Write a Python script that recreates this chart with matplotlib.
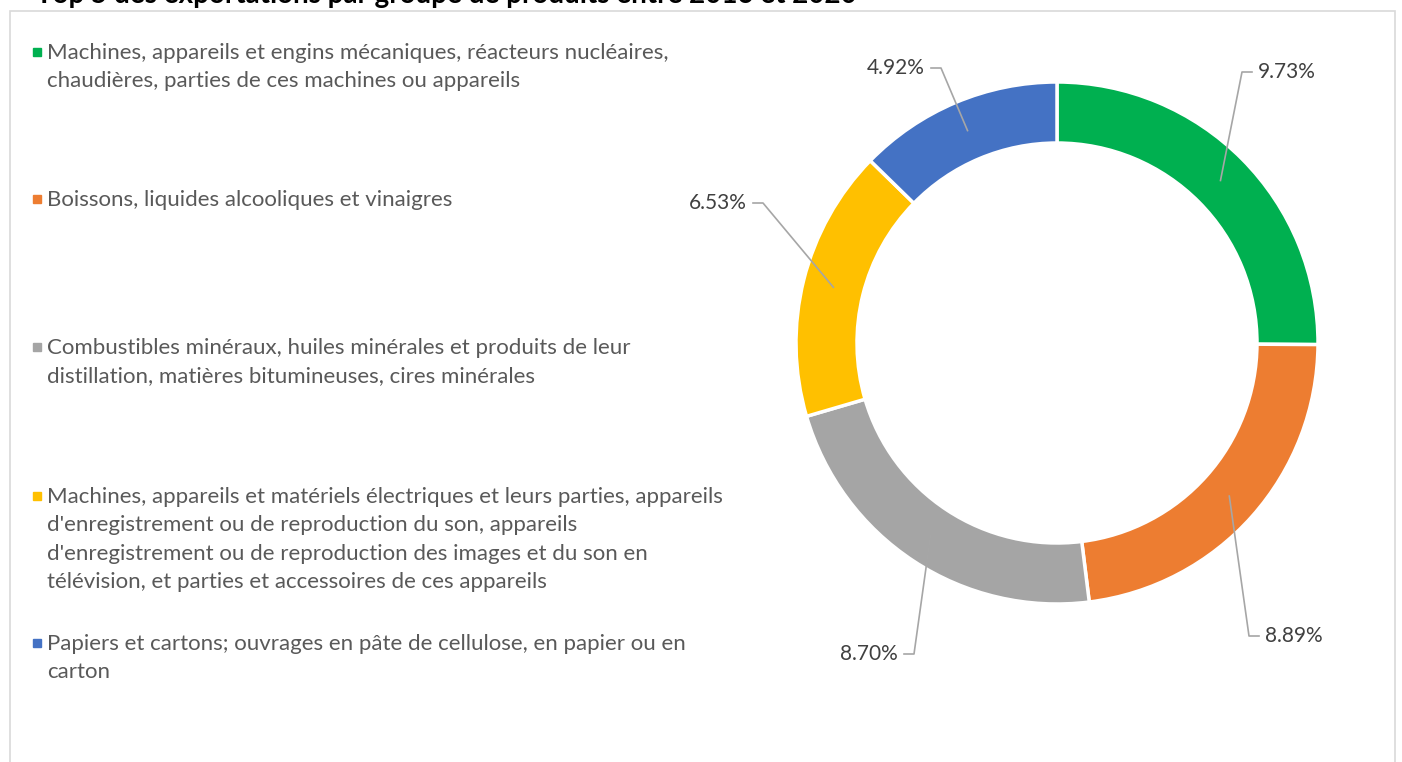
import numpy as np
import matplotlib
matplotlib.use("Agg")
import matplotlib.pyplot as plt
from matplotlib.patches import Rectangle

plt.rcParams["font.family"] = ["Lato", "DejaVu Sans"]

# ------------------------------------------------------------------
# data
# ------------------------------------------------------------------
TITLE = "Top 5 des exportations par groupe de produits entre 2016 et 2020"
CATEGORIES = [
    "Machines, appareils et engins mécaniques, réacteurs nucléaires,\n"
    "chaudières, parties de ces machines ou appareils",
    "Boissons, liquides alcooliques et vinaigres",
    "Combustibles minéraux, huiles minérales et produits de leur\n"
    "distillation, matières bitumineuses, cires minérales",
    "Machines, appareils et matériels électriques et leurs parties, appareils\n"
    "d'enregistrement ou de reproduction du son, appareils\n"
    "d'enregistrement ou de reproduction des images et du son en\n"
    "télévision, et parties et accessoires de ces appareils",
    "Papiers et cartons; ouvrages en pâte de cellulose, en papier ou en\n"
    "carton",
]
SHARES = [9.73, 8.89, 8.70, 6.53, 4.92]
COLORS = ["#00b050", "#ed7d31", "#a5a5a5", "#ffc000", "#4472c4"]

# label text anchor in pixels (x, y, side) and legend line y (pixels)
LABEL_PX = [(1258, 72, "l"), (1265, 636, "l"), (898, 654, "r"),
            (747, 203, "r"), (925, 68, "r")]
LEGEND_Y = [52, 199, 347, 496, 643]

W, H = 1402, 762
CX, CY, R = 1057, 343, 261
RING = 61 / 261

fig = plt.figure(figsize=(W / 100, H / 100), dpi=100)
fig.patches.append(Rectangle((10 / W, -0.01), 1385 / W, 1 - 11 / H + 0.01,
                             transform=fig.transFigure, fill=False,
                             edgecolor="#d9d9d9", lw=1.2))
fig.text(36 / W, 1 - 3 / H, TITLE, fontsize=20, fontweight="bold",
         color="black", va="baseline", ha="left")

ax = fig.add_axes([(CX - R) / W, (H - CY - R) / H, 2 * R / W, 2 * R / H])
wedges, _ = ax.pie(SHARES, colors=COLORS, startangle=90, counterclock=False,
                   radius=1.0,
                   wedgeprops=dict(width=RING, edgecolor="white", lw=2.5))
ax.set_xlim(-1, 1)
ax.set_ylim(-1, 1)
ax.set_aspect("equal")
ax.axis("off")


def px2d(px, py):
    return (px - CX) / R, (CY - py) / R


rmid = 1 - RING / 2
for w, val, (lx, ly, side) in zip(wedges, SHARES, LABEL_PX):
    ang = np.deg2rad(0.5 * (w.theta1 + w.theta2))
    ax0, ay0 = rmid * np.cos(ang), rmid * np.sin(ang)
    tx, ty = px2d(lx, ly)
    sgn = 1 if side == "l" else -1
    end = tx - sgn * 6 / R
    corner = end - sgn * 10 / R
    ax.plot([ax0, corner, end], [ay0, ty, ty], color="#a6a6a6", lw=1.2,
            clip_on=False, zorder=5)
    ax.text(tx, ty, f"{val:.2f}%", fontsize=15, color="#404040",
            ha="left" if side == "l" else "right", va="center",
            clip_on=False)

for cat, col, ly in zip(CATEGORIES, COLORS, LEGEND_Y):
    fig.patches.append(Rectangle(((37 - 4) / W, 1 - (ly + 4) / H), 8 / W, 8 / H,
                                 transform=fig.transFigure, color=col))
    fig.text(47 / W, 1 - (ly - 9) / H, cat, fontsize=16, color="#595959",
             ha="left", va="top", linespacing=1.52)

fig.savefig("out.png", dpi=100)
